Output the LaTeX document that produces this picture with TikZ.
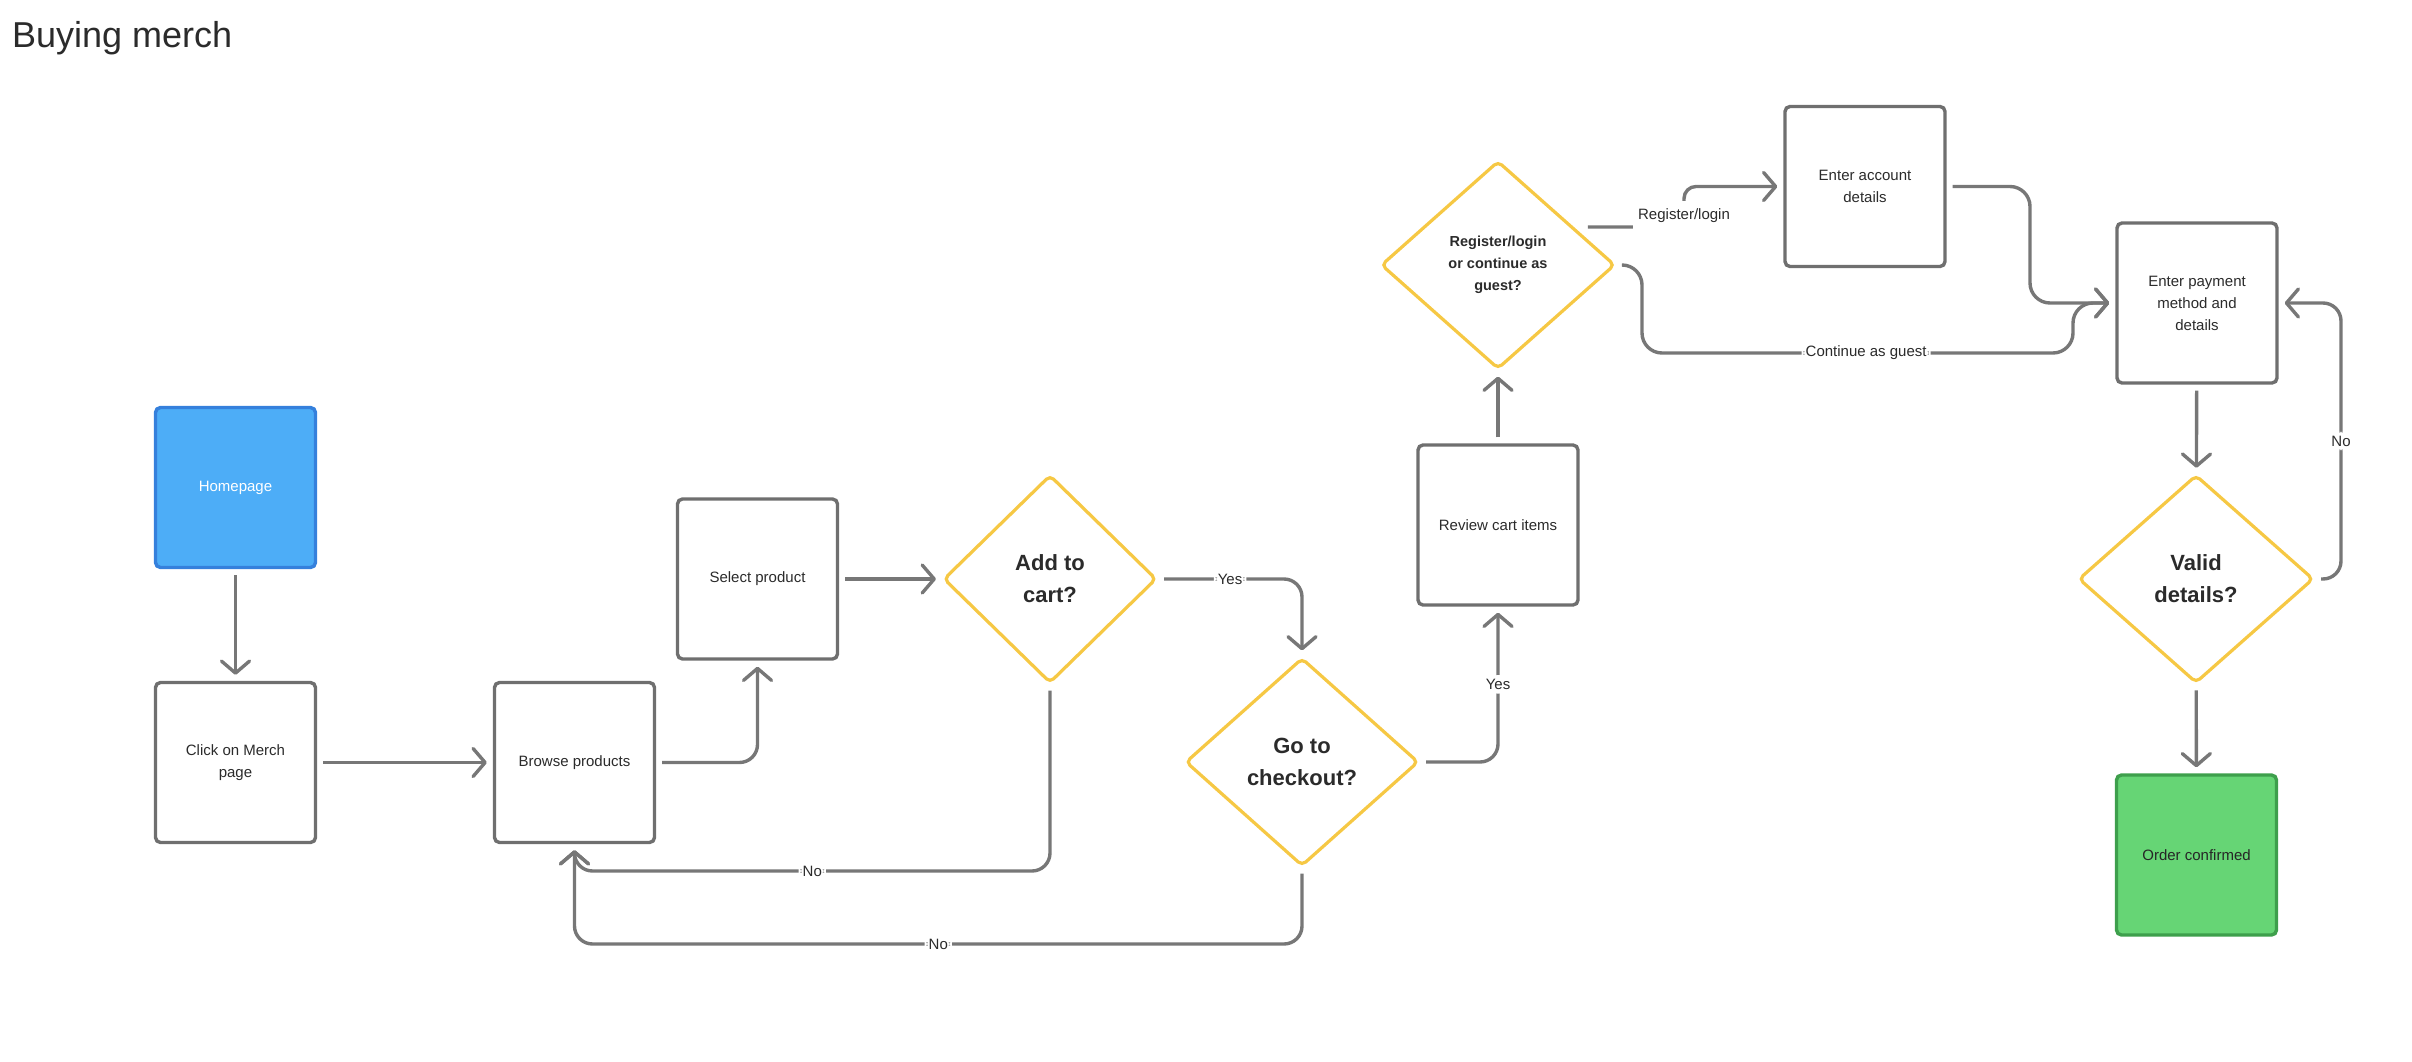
\documentclass[tikz,border=0pt]{standalone}
\usepackage{fontspec}
\setmainfont{Liberation Sans}
\usetikzlibrary{shapes.geometric,arrows.meta,calc}
\definecolor{linegray}{HTML}{777777}
\definecolor{boxgray}{HTML}{6F6F6F}
\definecolor{txt}{HTML}{2B2B2B}
\definecolor{hfill}{HTML}{4DADF7}
\definecolor{hdraw}{HTML}{3580DC}
\definecolor{gfill}{HTML}{66D575}
\definecolor{gdraw}{HTML}{3E9F4C}
\definecolor{ydraw}{HTML}{F6C844}
\begin{document}
\begin{tikzpicture}[x=1pt,y=-1pt,
  box/.style={draw=boxgray, line width=3.4pt, rounded corners=5pt,
    minimum width=160pt, minimum height=160pt, inner sep=0pt, align=center,
    text=txt, fill=white, font=\fontsize{15}{22}\selectfont},
  dia/.style={diamond, draw=ydraw, line width=3.2pt, rounded corners=5pt,
    inner sep=0pt, align=center, text=txt, fill=white,
    minimum width=#1, minimum height=208pt,
    font=\fontsize{22}{32}\selectfont\bfseries},
  smalldia/.style={font=\fontsize{14.5}{22}\selectfont\bfseries},
  conn/.style={draw=linegray, line width=3.4pt, rounded corners=18pt,
    shorten <=6pt, shorten >=6pt,
    -{Straight Barb[length=12pt,width=28pt,round]}},
  lab/.style={fill=white, inner sep=4pt, text=txt, font=\fontsize{15}{18}\selectfont}
]
\useasboundingbox (0,0) rectangle (2412,1062);

\node[anchor=base west, inner sep=0pt, text=txt, font=\fontsize{36}{40}\selectfont] (title) at (12,48) {Buying merch};

% nodes
\node[box, fill=hfill, draw=hdraw, text=white] (home) at (235.5,487.5) {Homepage};
\node[box] (click) at (235.5,762.5) {Click on Merch\\page};
\node[box] (browse) at (574.5,762.5) {Browse products};
\node[box] (select) at (757.5,579) {Select product};
\node[dia=213pt] (add) at (1050,579) {Add to\\cart?};
\node[dia=233pt] (go) at (1302,762) {Go to\\checkout?};
\node[box] (review) at (1498,525) {Review cart items};
\node[dia=234pt, smalldia] (reg) at (1498,265) {Register/login\\or continue as\\guest?};
\node[box] (acc) at (1865,186.5) {Enter account\\details};
\node[box] (pay) at (2197,303) {Enter payment\\method and\\details};
\node[dia=235pt] (valid) at (2196,579) {Valid\\details?};
\node[box, fill=gfill, draw=gdraw, text=black!85] (order) at (2196.5,855) {Order confirmed};

% connectors
\draw[conn] (home) -- (click);
\draw[conn] (click) -- (browse);
\draw[conn] (browse.east) -| (select.south);
\draw[conn] (select) -- (add);
\draw[conn] (add.east) -| node[lab,pos=0.25] {Yes} (go.north);
\draw[conn] (add.south) -- (add.south |- 0,871) -- node[lab] {No} (browse.south |- 0,871) -- (browse.south);
\draw[conn] (go.south) -- (go.south |- 0,944) -- node[lab] {No} (browse.south |- 0,944) -- (browse.south);
\draw[conn] (go.east) -| node[lab,pos=0.75] {Yes} (review.south);
\draw[conn] (review) -- (reg);

\coordinate (rs) at ($(reg.east)!0.36!(reg.north)+(8,0)$);
\draw[conn, rounded corners=12pt] (rs) -- (1684,0 |- rs) -- (1684,0 |- acc.west) -- (acc.west);
\node[lab, inner xsep=5pt, inner ysep=8pt] (lrl) at (1684,216) {Register/login};

\draw[conn, rounded corners=20pt] (reg.east) -- (1642,0 |- reg.east) -- (1642,353)
  -- node[lab,pos=0.52] {Continue as guest} (2073,353) -- (2073,0 |- pay.west) -- (pay.west);
\draw[conn, rounded corners=20pt] (acc.east) -- (2030,0 |- acc.east) -- (2030,0 |- pay.west) -- (pay.west);

\draw[conn] (pay) -- (valid);
\draw[conn] (valid) -- (order);
\draw[conn] (valid.east) -- (2341,0 |- valid.east) -- node[lab] {No} (2341,0 |- pay.east) -- (pay.east);
\end{tikzpicture}
\end{document}
